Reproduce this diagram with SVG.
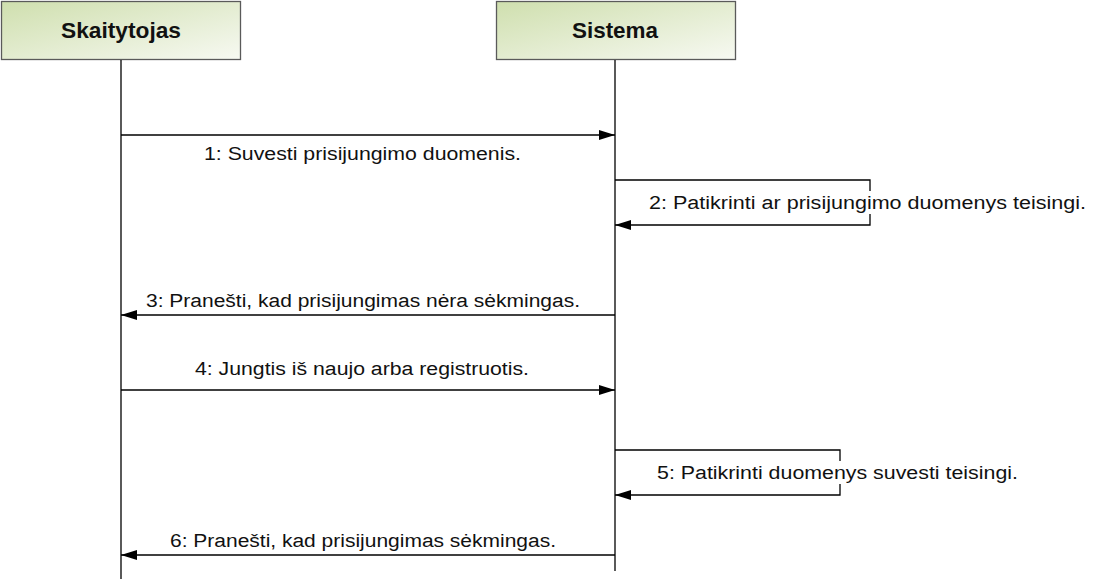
<svg xmlns="http://www.w3.org/2000/svg" width="1100" height="579" viewBox="0 0 1100 579">
<style>
.hdr{stroke:#5a5a5a;stroke-width:1.3;fill:url(#g)}
.ht{font-family:"Liberation Sans",Arial,sans-serif;font-weight:bold;font-size:22px;fill:#111}
.life{stroke:#000;stroke-width:1.3;fill:none}
.msg{stroke:#000;stroke-width:1.3;fill:none}
.lbl{font-family:"Liberation Sans",Arial,sans-serif;font-size:18px;fill:#111}
</style>
<defs>
<linearGradient id="g" x1="0" y1="0" x2="1" y2="1">
<stop offset="0" stop-color="#cfdfae"/>
<stop offset="1" stop-color="#f7f9f2"/>
</linearGradient>
<marker id="a" markerWidth="16" markerHeight="10" refX="16" refY="5" orient="auto" markerUnits="userSpaceOnUse">
<path d="M0,0 L16,5 L0,10 Z" fill="#000"/>
</marker>
</defs>
<rect width="1100" height="579" fill="#fff"/>
<g id="skaitytojas">
<rect class="hdr" x="1.5" y="1.5" width="239" height="58"/>
<text class="ht" x="121" y="38" text-anchor="middle" textLength="120" lengthAdjust="spacingAndGlyphs">Skaitytojas</text>
<line class="life" x1="121" y1="60" x2="121" y2="579"/>
</g>
<g id="sistema">
<rect class="hdr" x="496.5" y="1.5" width="239" height="58"/>
<text class="ht" x="615" y="38" text-anchor="middle" textLength="86" lengthAdjust="spacingAndGlyphs">Sistema</text>
<line class="life" x1="615" y1="60" x2="615" y2="571"/>
</g>
<g id="connectors">
<line class="msg" x1="121" y1="135" x2="615" y2="135" marker-end="url(#a)"/>
<path class="msg" d="M615,180 H870 V191 M870,214 V225 H615" marker-end="url(#a)"/>
<line class="msg" x1="615" y1="315" x2="121" y2="315" marker-end="url(#a)"/>
<line class="msg" x1="121" y1="390" x2="615" y2="390" marker-end="url(#a)"/>
<path class="msg" d="M615,450 H840 V461 M840,484 V495 H615" marker-end="url(#a)"/>
<line class="msg" x1="615" y1="555" x2="121" y2="555" marker-end="url(#a)"/>
</g>
<g id="labels">
<text class="lbl" x="204" y="160" textLength="317" lengthAdjust="spacingAndGlyphs">1: Suvesti prisijungimo duomenis.</text>
<text class="lbl" x="649" y="209" textLength="437" lengthAdjust="spacingAndGlyphs">2: Patikrinti ar prisijungimo duomenys teisingi.</text>
<text class="lbl" x="146" y="307" textLength="434" lengthAdjust="spacingAndGlyphs">3: Pranešti, kad prisijungimas nėra sėkmingas.</text>
<text class="lbl" x="195" y="375" textLength="334" lengthAdjust="spacingAndGlyphs">4: Jungtis iš naujo arba registruotis.</text>
<text class="lbl" x="657" y="479" textLength="361" lengthAdjust="spacingAndGlyphs">5: Patikrinti duomenys suvesti teisingi.</text>
<text class="lbl" x="170" y="547" textLength="386" lengthAdjust="spacingAndGlyphs">6: Pranešti, kad prisijungimas sėkmingas.</text>
</g>
</svg>
